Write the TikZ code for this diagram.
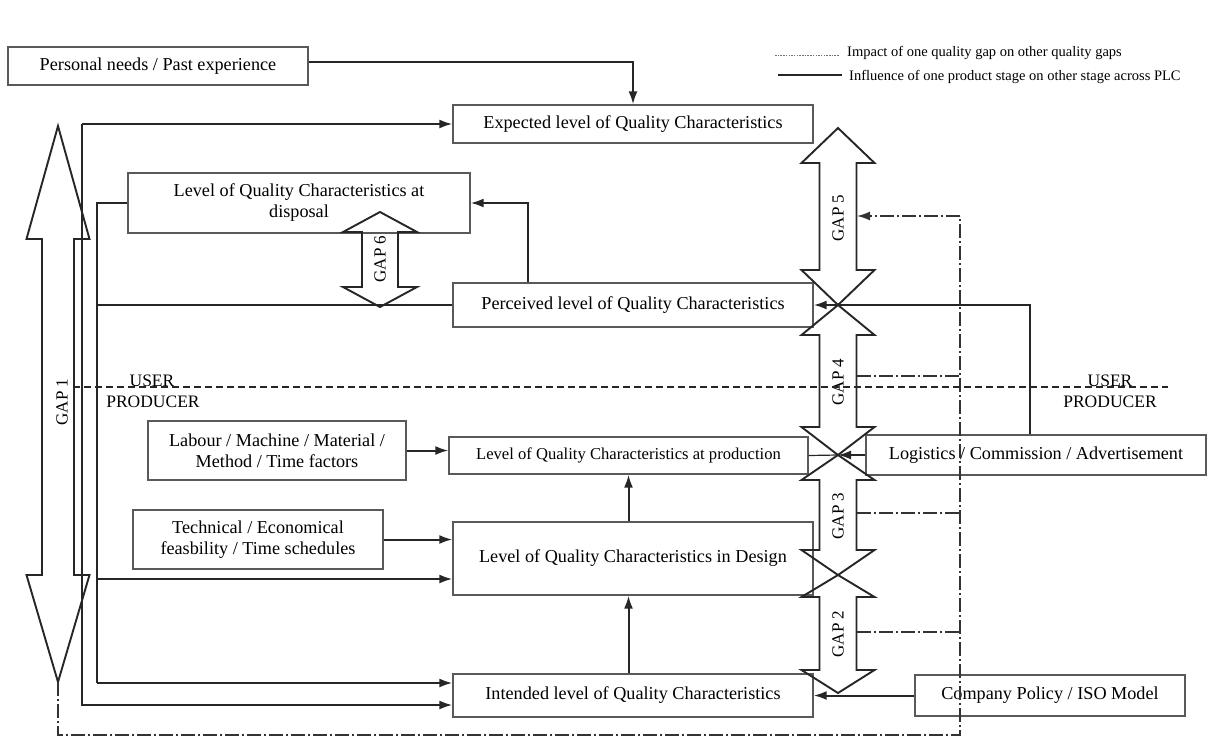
\documentclass[tikz,border=0pt]{standalone}
\usepackage{fontspec}
\setmainfont{Liberation Serif}
\usetikzlibrary{arrows.meta,calc}
\newcommand{\dblarrow}[7]{\draw[gap] (#1,#2) -- ({#1+#6},#3) -- ({#1+#7},#3) -- ({#1+#7},#4) -- ({#1+#6},#4) -- (#1,#5) -- ({#1-#6},#4) -- ({#1-#7},#4) -- ({#1-#7},#3) -- ({#1-#6},#3) -- cycle;}
\begin{document}
\begin{tikzpicture}[x=1pt,y=-1pt,
  box/.style={draw=black!65,line width=1.4pt,inner sep=0pt,align=center,font=\fontsize{18.2}{21}\selectfont},
  conn/.style={line width=2pt,draw=black!85},
  arr/.style={conn,-{Latex[length=13pt,width=9pt]}},
  dd/.style={line width=1.6pt,draw=black!80,dash pattern=on 14pt off 3pt on 2pt off 3pt},
  gap/.style={draw=black!85,line width=1.9pt,line join=miter},
  gaplbl/.style={rotate=90,inner sep=0pt,font=\fontsize{17}{19}\selectfont},
  side/.style={inner sep=0pt,font=\fontsize{17.5}{19}\selectfont},
  legtxt/.style={anchor=west,inner sep=0pt,font=\fontsize{14.5}{16}\selectfont}]
\useasboundingbox (0,0) rectangle (1208,742);
\fill[white] (0,0) rectangle (1208,742);

% boxes
\node[box,minimum width=300pt,minimum height=38pt] (pn) at (158,66) {Personal needs / Past experience};
\node[box,minimum width=360pt,minimum height=38pt] (exp) at (633,124) {Expected level of Quality Characteristics};
\node[box,minimum width=342pt,minimum height=60pt] (disp) at (299,203) {Level of Quality Characteristics at\\disposal};
\node[box,minimum width=360pt,minimum height=44pt] (per) at (633,305) {Perceived level of Quality Characteristics};
\node[box,minimum width=359pt,minimum height=37pt,font=\fontsize{16.6}{19}\selectfont] (prod) at (628.5,455.5) {Level of Quality Characteristics at production};
\node[box,minimum width=360pt,minimum height=73pt] (des) at (633,558.5) {Level of Quality Characteristics in Design};
\node[box,minimum width=360pt,minimum height=43pt] (int) at (633,695.5) {Intended level of Quality Characteristics};
\node[box,minimum width=258pt,minimum height=59pt] (lab) at (277,450.5) {Labour / Machine / Material /\\Method / Time factors};
\node[box,minimum width=250pt,minimum height=59pt] (tech) at (258,539.5) {Technical / Economical\\feasbility / Time schedules};
\node[box,minimum width=340pt,minimum height=40pt] (log) at (1036,455) {Logistics / Commission / Advertisement};
\node[box,minimum width=270pt,minimum height=41pt] (comp) at (1050,695.5) {Company Policy / ISO Model};

% gap arrows
\dblarrow{58}{126}{239}{575}{682}{31.5}{16}
\dblarrow{380}{212}{232}{287}{307}{37}{18}
\dblarrow{838}{128}{163}{270}{305}{36.5}{18.5}
\dblarrow{838}{305}{335}{427}{455}{36.5}{18.5}
\dblarrow{838}{455}{480}{550}{575}{36.5}{18.5}
\dblarrow{838}{575}{597}{670}{693}{36.5}{18.5}
\node[gaplbl] (g1) at (62,402) {GAP 1};
\node[gaplbl] (g6) at (380,259) {GAP 6};
\node[gaplbl] (g5) at (838,218) {GAP 5};
\node[gaplbl] (g4) at (838,382) {GAP 4};
\node[gaplbl] (g3) at (838,516) {GAP 3};
\node[gaplbl] (g2) at (838,634) {GAP 2};

% solid connectors
\draw[arr] ([yshift=4pt]pn.east) -| (exp.north);
\coordinate (b82t) at (82,124);
\coordinate (b82b) at (82,705);
\draw[arr] (b82t) -- (exp.west);
\draw[arr] (b82t) -- (b82b) -- (b82b -| int.west);
\coordinate (b97t) at (97,203);
\coordinate (b97d) at (97,579);
\coordinate (b97b) at (97,683);
\draw[conn] (disp.west) -- (b97t) -- (b97b);
\draw[arr] (b97b) -- (b97b -| int.west);
\draw[arr] (b97d) -- (b97d -| des.west);
\draw[conn] (per.west) -- (per.west -| b97t);
\draw[arr] ([xshift=-105pt]per.north) |- (disp.east);
\draw[arr] ([xshift=-6pt]log.north) |- (per.east);
\coordinate (x43) at (838,455);
\draw[conn,line width=1.2pt] (prod.east) -- (x43);
\draw[arr] (log.west) -- (x43);
\draw[arr] (lab.east) -- (lab.east -| prod.west);
\draw[arr] (tech.east) -- (tech.east -| des.west);
\draw[arr] (prod.south |- des.north) -- (prod.south);
\draw[arr] (prod.south |- int.north) -- (prod.south |- des.south);
\draw[arr] (comp.west) -- (comp.west -| int.east);

% dash-dot connectors (impact of gaps)
\coordinate (g5r) at (857,216);
\coordinate (dtop) at (960,216);
\coordinate (dbot) at (960,735);
\coordinate (g1b) at (58,682);
\coordinate (g4r) at (857,376);
\coordinate (g3r) at (857,513);
\coordinate (g2r) at (857,632);
\draw[dd] (g1b) |- (dbot) -- (dtop);
\draw[dd,-{Latex[length=13pt,width=9pt]}] (dtop) -- (g5r);
\draw[dd] (g4r) -- (g4r -| dtop);
\draw[dd] (g3r) -- (g3r -| dtop);
\draw[dd] (g2r) -- (g2r -| dtop);

% user / producer boundary
\coordinate (ul) at (73,387);
\coordinate (ur) at (1168,387);
\draw[line width=1.6pt,draw=black!85,dash pattern=on 7pt off 4pt] (ul) -- (ur);
\node[side] (u1) at (152,381) {USER};
\node[side] (p1) at (153,402) {PRODUCER};
\node[side] (u2) at (1110,381) {USER};
\node[side] (p2) at (1110,402) {PRODUCER};

% legend
\node[legtxt] (leg1) at (847,53) {Impact of one quality gap on other quality gaps};
\node[legtxt] (leg2) at (849,77) {Influence of one product stage on other stage across PLC};
\coordinate (la) at (775,55);
\coordinate (lb) at (778,75);
\draw[line width=0.9pt,draw=black!55,dash pattern=on 1.5pt off 1.2pt] (la) -- ([xshift=-8pt]la -| leg1.west);
\draw[line width=2pt,draw=black!85] (lb) -- ([xshift=-7pt]lb -| leg2.west);
\end{tikzpicture}
\end{document}
